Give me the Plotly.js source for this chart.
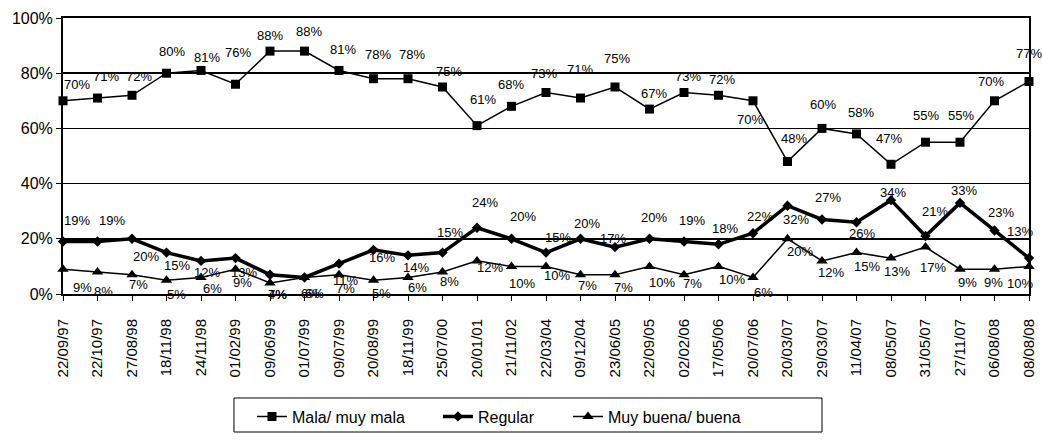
<!DOCTYPE html>
<html>
<head>
<meta charset="utf-8">
<script src="https://cdn.plot.ly/plotly-3.0.1.min.js"></script>
<style>
html,body{margin:0;padding:0;background:#fff;}
#chart{width:1042px;height:440px;}
</style>
</head>
<body>
<div id="chart"></div>
<script>
// ---- data ----
var dates = ["22/09/97","22/10/97","27/08/98","18/11/98","24/11/98","01/02/99","09/06/99","01/07/99","09/07/99","20/08/99","18/11/99","25/07/00","20/01/01","21/11/02","22/03/04","09/12/04","23/06/05","22/09/05","02/02/06","17/05/06","20/07/06","20/03/07","29/03/07","11/04/07","08/05/07","31/05/07","27/11/07","06/08/08","08/08/08"];
var mala = [70,71,72,80,81,76,88,88,81,78,78,75,61,68,73,71,75,67,73,72,70,48,60,58,47,55,55,70,77];
var regular = [19,19,20,15,12,13,7,6,11,16,14,15,24,20,15,20,17,20,19,18,22,32,27,26,34,21,33,23,13];
var buena = [9,8,7,5,6,9,4,6,7,5,6,8,12,10,10,7,7,10,7,10,6,20,12,15,13,17,9,9,10];
var seriesNames = ["Mala/ muy mala","Regular","Muy buena/ buena"];
var yTicks = [0,20,40,60,80,100];

// ---- label offsets (style only, px: right / down) ----
var malaDx = [14,8,7,5,6,2,0,4,4,4,4,6,6,-1,-2,-1,2,4,4,3,-3,6,1,4,-2,0,1,-4,0];
var malaDy = [-16,-22,-19,-22,-13,-32,-16,-20,-21,-24,-24,-16,-26,-22,-19,-29,-29,-16,-16,-16,19,-23,-24,-21,-26,-27,-27,-19,-28];
var regDx = [14,14,14,10,6,8,7,6,6,8,8,7,8,11,12,6,-2,4,8,6,7,8,6,5,2,9,4,6,-9];
var regDy = [-21,-21,18,13,12,14,20,16,17,8,12,-20,-25,-22,-15,-15,-9,-21,-21,-16,-17,14,-22,11,-8,-25,-12,-18,-27];
var buDx = [19,6,6,10,11,7,7,10,6,8,9,7,13,10,11,7,8,12,8,13,10,12,9,10,6,7,7,-1,-9];
var buDy = [18,20,10,14,11,13,12,16,14,13,10,10,7,17,9,11,13,16,9,13,15,13,12,14,13,20,13,13,17];

var FONT = "Arial, 'Liberation Sans', sans-serif";

var traces = [
  {x: dates, y: mala, name: seriesNames[0], type: "scatter", mode: "lines+markers", legend: "legend",
   line: {color: "#000", width: 1.5}, marker: {symbol: "square", size: 9, color: "#000"}, cliponaxis: false},
  {x: dates, y: regular, name: seriesNames[1], type: "scatter", mode: "lines+markers", legend: "legend2",
   line: {color: "#000", width: 3.5}, marker: {symbol: "diamond", size: 8, color: "#000"}, cliponaxis: false},
  {x: dates, y: buena, name: seriesNames[2], type: "scatter", mode: "lines+markers", legend: "legend3",
   line: {color: "#000", width: 1.5}, marker: {symbol: "triangle-up", size: 10, color: "#000"}, cliponaxis: false}
];

var annotations = [];
function addLabels(vals, dx, dy) {
  for (var i = 0; i < vals.length; i++) {
    annotations.push({x: dates[i], y: vals[i], xref: "x", yref: "y", text: vals[i] + "%",
      showarrow: false, xanchor: "center", yanchor: "middle", xshift: dx[i], yshift: -dy[i],
      font: {family: FONT, size: 13, color: "#000"}});
  }
}
addLabels(mala, malaDx, malaDy);
addLabels(regular, regDx, regDy);
addLabels(buena, buDx, buDy);

function legendAt(xc) {
  return {orientation: "h", xref: "container", yref: "container", x: xc, y: 0.092,
    xanchor: "left", yanchor: "top",
    bgcolor: "rgba(0,0,0,0)", borderwidth: 0, font: {family: FONT, size: 16, color: "#000"}};
}

var layout = {
  width: 1042, height: 440,
  margin: {l: 63, r: 13, t: 18, b: 146, autoexpand: false},
  paper_bgcolor: "#fff", plot_bgcolor: "#fff",
  font: {family: FONT, color: "#000", size: 16},
  showlegend: true,
  legend: legendAt(0.2418),
  legend2: legendAt(0.4203),
  legend3: legendAt(0.5451),
  xaxis: {type: "category", range: [0, dates.length - 1], tickmode: "linear", dtick: 1,
    showgrid: false, showline: true, linecolor: "#000", linewidth: 2, mirror: true,
    ticks: "outside", ticklen: 5, tickcolor: "#000", tickwidth: 1, ticklabelstandoff: 12,
    tickangle: -90, tickfont: {family: FONT, size: 15, color: "#000"}, zeroline: false, fixedrange: true},
  yaxis: {range: [0, 100], tickvals: yTicks, ticktext: yTicks.map(function(v){return v + "%";}),
    showgrid: true, gridcolor: "#000", gridwidth: 1.5,
    showline: true, linecolor: "#000", linewidth: 2, mirror: true,
    ticks: "outside", ticklen: 5, tickcolor: "#000", tickwidth: 1,
    tickfont: {family: FONT, size: 16, color: "#000"}, zeroline: false, fixedrange: true},
  annotations: annotations,
  shapes: [{type: "rect", xref: "paper", yref: "paper", x0: 0.177, x1: 0.7857, y0: -0.5, y1: -0.3768,
    line: {color: "#000", width: 1}, fillcolor: "rgba(0,0,0,0)"}]
};

Plotly.newPlot("chart", traces, layout, {displayModeBar: false, staticPlot: true});
</script>
</body>
</html>
